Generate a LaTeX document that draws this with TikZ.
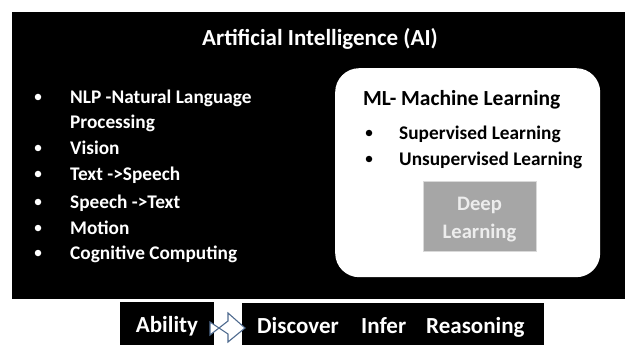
\documentclass[tikz,border=0pt]{standalone}
\usepackage{fontspec}
\setmainfont{Carlito}
\definecolor{arrowc}{HTML}{4F6B8F}
\definecolor{dlfill}{HTML}{A6A6A6}
\definecolor{dltext}{HTML}{EDEDED}
\begin{document}
\begin{tikzpicture}[x=1pt,y=-1pt,
  wt/.style={text=white,font=\bfseries\fontsize{19.3}{22}\selectfont,anchor=base west,inner sep=0pt},
  bk/.style={text=black,font=\bfseries\fontsize{19.3}{22}\selectfont,anchor=base west,inner sep=0pt},
  big/.style={font=\bfseries\fontsize{23}{26}\selectfont,inner sep=0pt},
  bul/.style={circle,inner sep=0pt,minimum size=6.5pt},
  box/.style={fill=black,draw=none,inner sep=0pt,anchor=north west}]
\useasboundingbox (0,0) rectangle (625,345);
\fill[white] (0,0) rectangle (625,345);
% main black area
\node[box,minimum width=613pt,minimum height=287pt] (ai) at (12,12) {};
\node[big,text=white,anchor=base] (title) at (320,45.5) {Artificial Intelligence (AI)};
% left list
\foreach \y/\t/\n in {97/{NLP -Natural Language}/l1,148/Vision/l3,174/{Text ->Speech}/l4,202/{Speech ->Text}/l5,228/Motion/l6,253/{Cognitive Computing}/l7}{
  \node[bul,fill=white] (b\n) at (38,\y) {};
  \node[wt] (\n) at (70,\y+6.2) {\t};
}
\node[wt] (l2) at (70,128.2) {Processing};
% ML box
\node[fill=white,rounded corners=24pt,minimum width=265pt,minimum height=209pt,anchor=north west,inner sep=0pt] (ml) at (335,68) {};
\node[text=black,font=\bfseries\fontsize{21.5}{24}\selectfont,anchor=base west,inner sep=0pt] (mlt) at (363,105.5) {ML- Machine Learning};
\node[bul,fill=black] (bm1) at (369,133) {};
\node[bk] (m1) at (399,139.2) {Supervised Learning};
\node[bul,fill=black] (bm2) at (369,159) {};
\node[bk] (m2) at (399,165.2) {Unsupervised Learning};
\node[fill=dlfill,draw=black!15,line width=0.6pt,minimum width=113pt,minimum height=70pt,anchor=north west,inner sep=0pt] (dl) at (423,181) {};
\node[text=dltext,font=\bfseries\fontsize{20.6}{28}\selectfont,inner sep=0pt,anchor=base] (dlt1) at (479.5,211) {Deep};
\node[text=dltext,font=\bfseries\fontsize{20.6}{28}\selectfont,inner sep=0pt,anchor=base] (dlt2) at (479.5,238.5) {Learning};
% bottom
\node[box,minimum width=94pt,minimum height=43pt] (ab) at (120,302) {};
\node[big,text=white,anchor=base] (abt) at (167,332) {Ability};
\node[box,minimum width=302pt,minimum height=42pt] (dis) at (242,303) {};
\node[big,text=white,anchor=base west] (d1) at (257,333) {Discover};
\node[big,text=white,anchor=base west] (d2) at (361,333) {Infer};
\node[big,text=white,anchor=base west] (d3) at (426,333) {Reasoning};
\coordinate (arL) at (210,328);
\coordinate (arT) at (245,328);
\draw[draw=arrowc,fill=white,line width=1.1pt,line join=miter]
  ([yshift=-7]arL) -- (228,321) -- (228,313) -- (arT) -- (228,342) -- (228,334) -- ([yshift=6]arL) -- cycle;
\end{tikzpicture}
\end{document}
